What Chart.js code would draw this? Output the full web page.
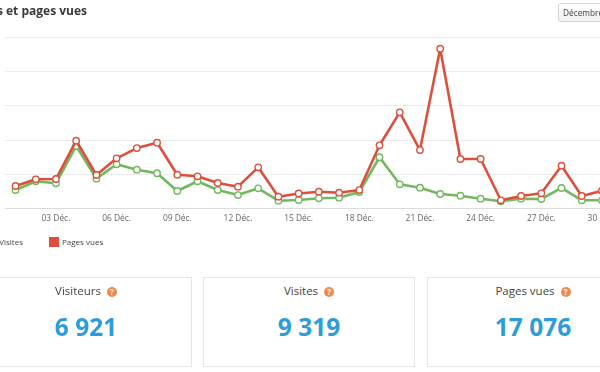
<!DOCTYPE html>
<html lang="fr">
<head>
<meta charset="utf-8">
<title>Visites et pages vues</title>
<script src="https://cdn.jsdelivr.net/npm/chart.js@4"></script>
<style>
  html, body { margin: 0; padding: 0; background: #fff; }
  body { position: relative; width: 600px; height: 372px; overflow: hidden; font-family: "Open Sans", sans-serif; }
  #wrap { position: absolute; left: 0; top: 0; width: 640px; height: 240px; }
  .title { position: absolute; right: 513px; top: 2px; font-size: 12px; font-weight: 700; color: #3a3a3a; white-space: nowrap; line-height: 18px; }
  .btn { position: absolute; left: 558px; top: 3px; width: 70px; height: 19px; box-sizing: border-box; border: 1px solid #d4d4d4; border-radius: 3px;
         background: linear-gradient(#fff, #f0f0f0); font-size: 8.3px; line-height: 17px; padding-left: 4px; color: #444; white-space: nowrap; }
  .sw { position: absolute; top: 236.5px; width: 10px; height: 10.5px; }
  .lg { position: absolute; top: 235px; font-size: 8px; line-height: 13px; color: #444; white-space: nowrap; }
  .card { position: absolute; top: 277px; width: 212px; height: 90px; box-sizing: border-box; border: 1px solid #e3e6e6; text-align: center; }
  .card h4 { margin: 0; position: absolute; left: 0; right: 0; top: 5px; font-size: 11.5px; line-height: 16px; font-weight: 400; color: #444; }
  .card b { position: absolute; left: 0; right: 0; top: 32px; font-size: 24.5px; line-height: 34px; font-weight: 700; color: #2d9cdb; }
  .q { display: inline-block; width: 10px; height: 10px; margin-left: 3px; border-radius: 50%; background: #f0894a; color: #fff; font-size: 8px; line-height: 10px; font-weight: 700; vertical-align: 0; }
</style>
</head>
<body>
<div id="wrap"><canvas id="traffic" width="640" height="240"></canvas></div>
<div class="title">Visites et pages vues</div>
<div class="btn">Décembre 2014</div>
<div class="sw" style="left:-26px;background:#72b85e"></div>
<div class="lg" style="right:577px">Visites</div>
<div class="sw" style="left:49px;background:#dd4f3c"></div>
<div class="lg" style="left:62px">Pages vues</div>
<div class="card" style="left:-20px"><h4>Visiteurs <span class="q">?</span></h4><b>6 921</b></div>
<div class="card" style="left:203px"><h4>Visites <span class="q">?</span></h4><b>9 319</b></div>
<div class="card" style="left:427px"><h4>Pages vues <span class="q">?</span></h4><b>17 076</b></div>
<script>
var days = ['01 Déc.','02 Déc.','03 Déc.','04 Déc.','05 Déc.','06 Déc.','07 Déc.','08 Déc.','09 Déc.','10 Déc.',
  '11 Déc.','12 Déc.','13 Déc.','14 Déc.','15 Déc.','16 Déc.','17 Déc.','18 Déc.','19 Déc.','20 Déc.',
  '21 Déc.','22 Déc.','23 Déc.','24 Déc.','25 Déc.','26 Déc.','27 Déc.','28 Déc.','29 Déc.','30 Déc.','31 Déc.'];
var visites = [270,398,368,914,436,646,567,515,256,398,270,197,295,114,124,149,158,241,749,354,304,212,187,143,105,143,139,300,120,120,139];
var pagesVues = [329,427,431,991,490,734,884,962,494,471,373,319,602,173,219,246,231,270,924,1406,855,2336,724,724,120,183,222,626,183,260,290];

var ctx = document.getElementById('traffic').getContext('2d');
function line(label, data, color) {
  return {
    label: label,
    data: data,
    borderColor: color,
    borderWidth: 2.6,
    borderJoinStyle: 'round',
    tension: 0,
    pointRadius: 3.2,
    pointBorderWidth: 1.4,
    pointBackgroundColor: '#fff',
    pointBorderColor: color
  };
}
new Chart(ctx, {
  type: 'line',
  data: {
    labels: days,
    // first dataset is drawn on top
    datasets: [line('Pages vues', pagesVues, '#dd4f3c'), line('Visites', visites, '#72b85e')]
  },
  options: {
    responsive: false,
    animation: false,
    layout: { padding: { left: 3.6, right: 7.7, top: 37.5, bottom: 0 } },
    plugins: { legend: { display: false }, tooltip: { enabled: false } },
    scales: {
      x: {
        offset: true,
        afterFit: function (s) { s.height = 31.5; },
        grid: { display: false, drawTicks: false },
        border: { display: false },
        ticks: {
          autoSkip: false,
          maxRotation: 0,
          padding: 5.5,
          color: '#666',
          font: { family: 'Open Sans', size: 8.4 },
          callback: function (v, i) { return i % 3 === 2 ? days[i] : ''; }
        }
      },
      y: {
        min: 0,
        max: 2500,
        afterFit: function (s) { s.width = 0; },
        border: { display: false },
        grid: {
          drawTicks: false,
          color: function (c) { return c.tick.value === 0 ? '#dcdcdc' : '#ececec'; }
        },
        ticks: { display: false, stepSize: 500 }
      }
    }
  }
});
</script>
</body>
</html>
